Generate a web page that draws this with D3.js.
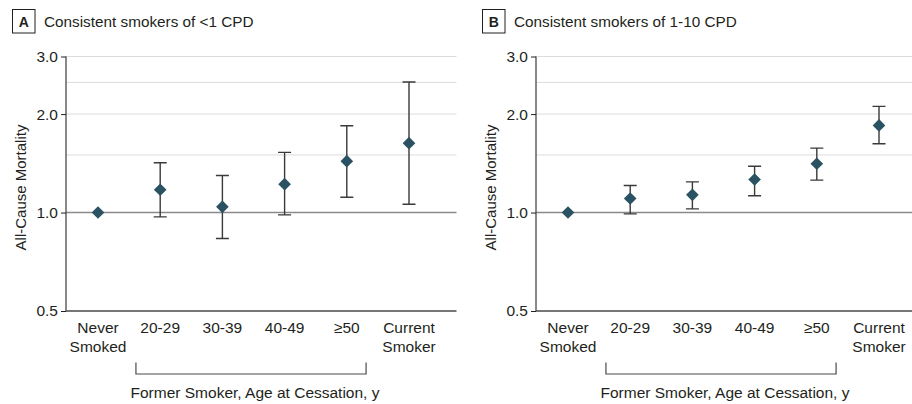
<!DOCTYPE html>
<html>
<head>
<meta charset="utf-8">
<script src="https://cdn.jsdelivr.net/npm/d3@7"></script>
<style>
  html, body { margin: 0; padding: 0; background: #fff; }
  svg { display: block; }
  text { font-family: "Liberation Sans", Arial, sans-serif; fill: #231f20; }
</style>
</head>
<body>
<svg id="chart" width="912" height="404"></svg>
<script>
const categories = ["Never Smoked", "20-29", "30-39", "40-49", "≥50", "Current Smoker"];
const panelLetters = ["A", "B"];
const panelTitles = ["Consistent smokers of <1 CPD", "Consistent smokers of 1-10 CPD"];
const yTicks = [0.5, 1.0, 2.0, 3.0];
const yGrid = [1.5, 2.0, 2.5, 3.0];
const estA = [1.0, 1.174, 1.041, 1.221, 1.436, 1.630];
const lowA = [null, 0.970, 0.833, 0.984, 1.114, 1.060];
const highA = [null, 1.42, 1.298, 1.527, 1.843, 2.507];
const estB = [1.0, 1.104, 1.133, 1.262, 1.410, 1.847];
const lowB = [null, 0.991, 1.026, 1.125, 1.256, 1.623];
const highB = [null, 1.210, 1.241, 1.386, 1.574, 2.111];
const yTitle = "All-Cause Mortality";
const groupLabel = "Former Smoker, Age at Cessation, y";

const panels = [
  { letter: panelLetters[0], title: panelTitles[0], est: estA, low: lowA, high: highA, ox: 0 },
  { letter: panelLetters[1], title: panelTitles[1], est: estB, low: lowB, high: highB, ox: 470 }
];

const svg = d3.select("#chart");
const axisX = 66, plotRight = 456.5;
const y = d3.scaleLog().domain([0.5, 3]).range([311, 56.5]);
const x = d3.scalePoint().domain(categories).range([98, 409]);
const step = x.step();

panels.forEach(p => {
  const g = svg.append("g").attr("transform", `translate(${p.ox},0)`);

  // header
  g.append("rect").attr("x", 12.5).attr("y", 9.5).attr("width", 22.5).attr("height", 23.5)
    .attr("fill", "none").attr("stroke", "#231f20").attr("stroke-width", 1);
  g.append("text").attr("x", 23.75).attr("y", 26.5).attr("text-anchor", "middle")
    .attr("font-size", 14).attr("font-weight", "bold").text(p.letter);
  g.append("text").attr("x", 44).attr("y", 26.5).attr("font-size", 15.3).text(p.title);

  // gridlines
  g.selectAll(".grid").data(yGrid).enter().append("line")
    .attr("x1", axisX).attr("x2", plotRight)
    .attr("y1", d => y(d)).attr("y2", d => y(d))
    .attr("stroke", "#dcdcdc").attr("stroke-width", 1);

  // reference line at 1.0
  g.append("line").attr("x1", axisX).attr("x2", plotRight)
    .attr("y1", y(1)).attr("y2", y(1))
    .attr("stroke", "#8a8a8a").attr("stroke-width", 1.5);

  // y axis
  const yAxis = d3.axisLeft(y).tickValues(yTicks).tickFormat(d3.format(".1f")).tickSize(5).tickPadding(3);
  const ya = g.append("g").attr("transform", `translate(${axisX},0)`).call(yAxis);
  ya.select(".domain").attr("stroke", "#4a4a4a").attr("stroke-width", 1.3).attr("d", `M0,${y(3)}V${y(0.5)}`);
  ya.selectAll(".tick line").attr("stroke", "#231f20");
  ya.selectAll(".tick text").attr("font-size", 15.5).attr("fill", "#231f20")
    .style("font-family", '"Liberation Sans", Arial, sans-serif');

  // bottom axis line
  g.append("line").attr("x1", axisX).attr("x2", plotRight)
    .attr("y1", y(0.5)).attr("y2", y(0.5))
    .attr("stroke", "#4a4a4a").attr("stroke-width", 1.3);

  // y title
  g.append("text").attr("transform", `translate(25.5,187.5) rotate(-90)`)
    .attr("text-anchor", "middle").attr("font-size", 15).text(yTitle);

  // x labels
  categories.forEach(c => {
    const parts = c.startsWith("Never") || c.startsWith("Current") ? c.split(" ") : [c];
    const t = g.append("text").attr("text-anchor", "middle").attr("font-size", 15.5)
      .attr("x", x(c)).attr("y", 333);
    parts.forEach((s, i) => {
      t.append("tspan").attr("x", x(c)).attr("dy", i === 0 ? 0 : 18.5).text(s);
    });
  });

  // bracket
  const bx1 = x(categories[1]) - step * 0.39;
  const bx2 = x(categories[4]) + step * 0.31;
  g.append("path").attr("d", `M${bx1},362.5V374H${bx2}V362.5`)
    .attr("fill", "none").attr("stroke", "#4a4a4a").attr("stroke-width", 1.2);
  g.append("text").attr("x", (bx1 + bx2) / 2 + 4).attr("y", 398).attr("text-anchor", "middle")
    .attr("font-size", 15.5).text(groupLabel);

  // error bars
  const capW = 6.5;
  categories.forEach((c, i) => {
    if (p.low[i] == null) return;
    const cx = x(c), y1 = y(p.high[i]), y2 = y(p.low[i]);
    g.append("path").attr("d", `M${cx},${y1}V${y2}M${cx - capW},${y1}H${cx + capW}M${cx - capW},${y2}H${cx + capW}`)
      .attr("fill", "none").attr("stroke", "#3a3a3a").attr("stroke-width", 1.4);
  });

  // diamonds
  const dsym = d3.symbol().type(d3.symbolSquare).size(80);
  categories.forEach((c, i) => {
    g.append("path").attr("d", dsym())
      .attr("transform", `translate(${x(c)},${y(p.est[i])}) rotate(45)`)
      .attr("fill", "#2b5262");
  });
});
</script>
</body>
</html>
